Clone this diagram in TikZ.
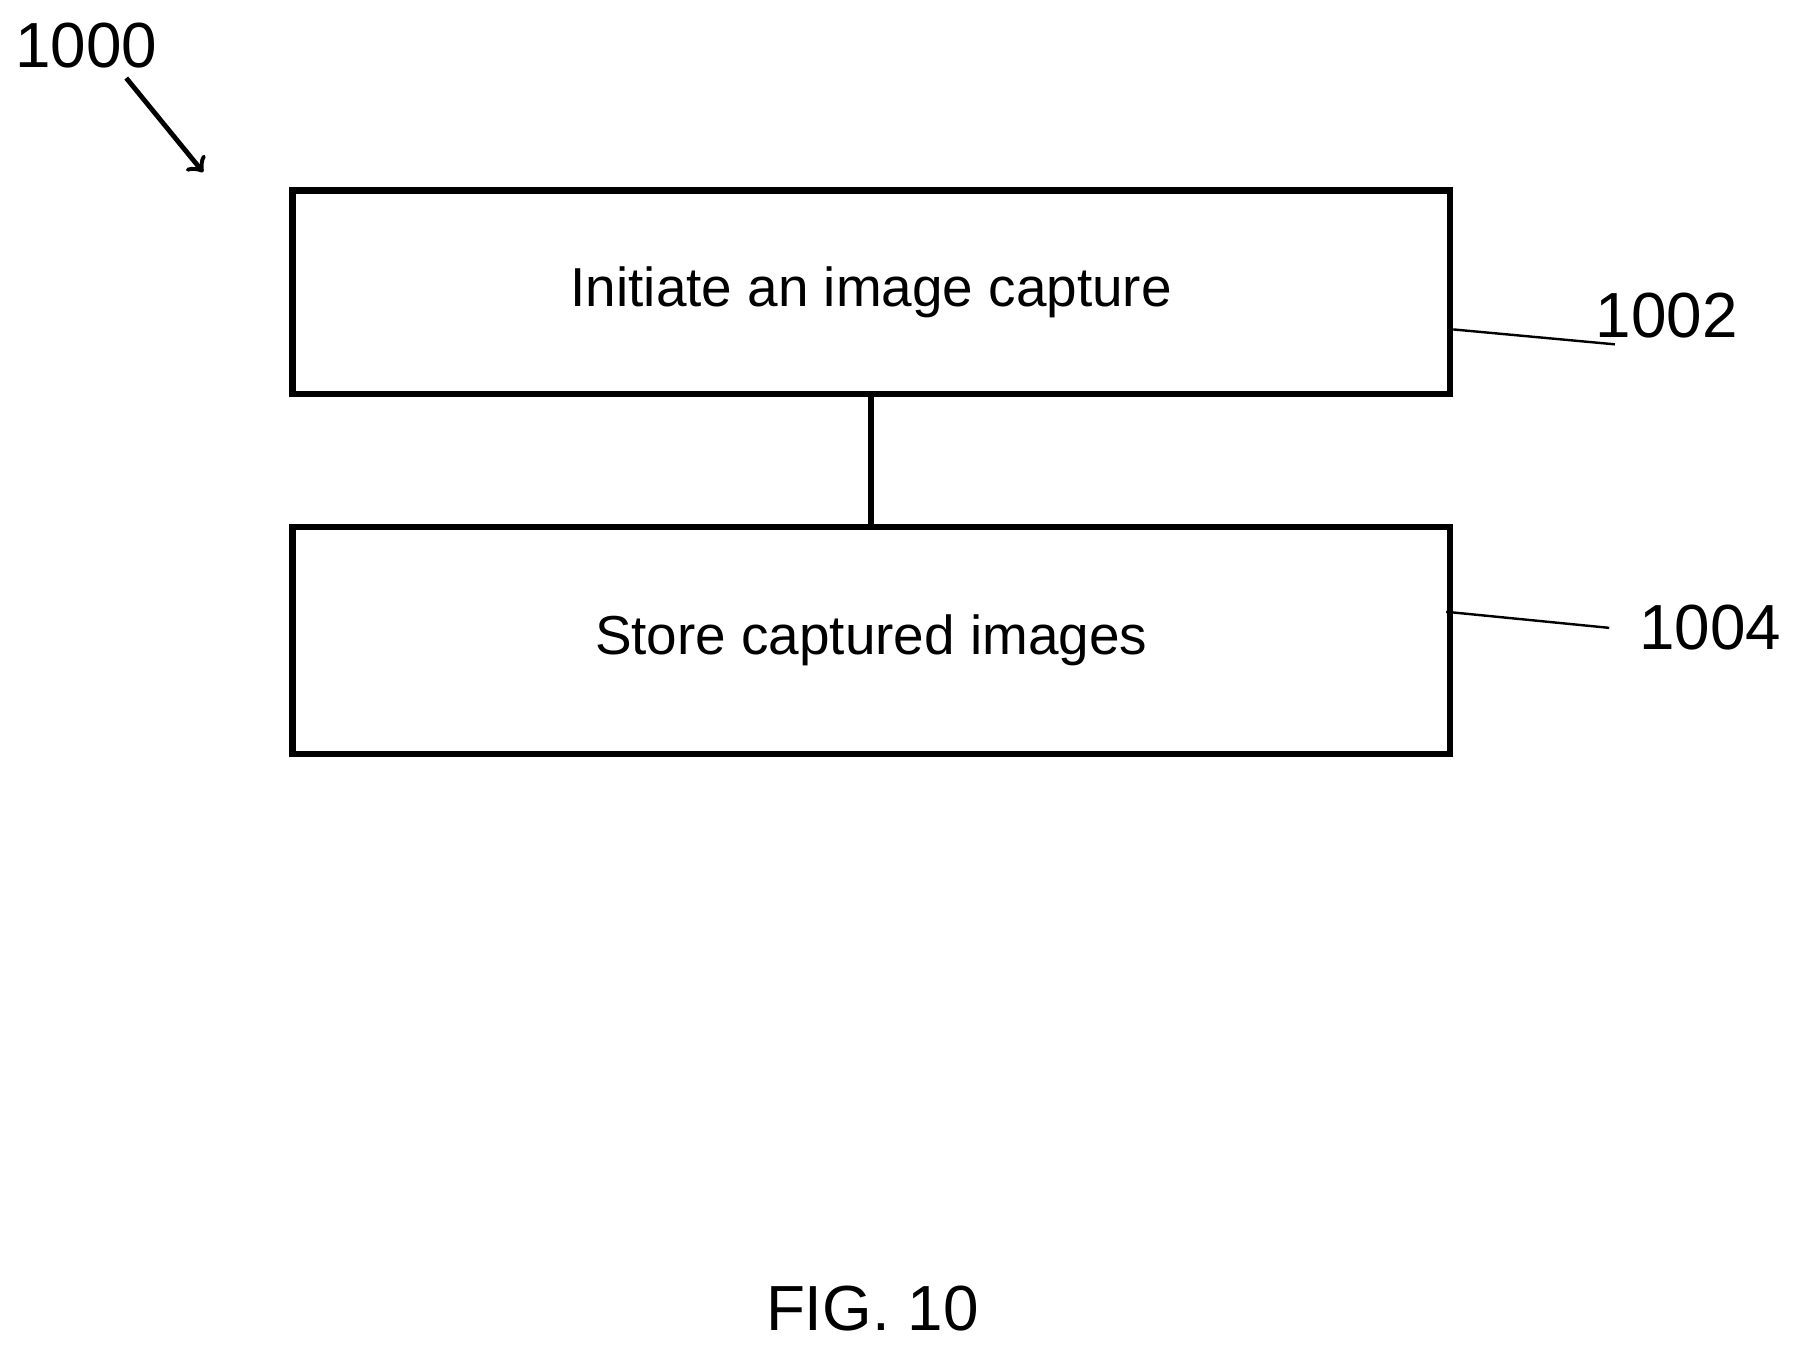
\documentclass[tikz,border=0pt]{standalone}
\usepackage{fontspec}
\setmainfont{Liberation Sans}
\usetikzlibrary{arrows}

\begin{document}
\begin{tikzpicture}[x=0.01cm,y=-0.01cm,>=stealth',semithick]
 \tikzstyle{stepbox}=[draw,line width=1.6pt,minimum width=10.08cm,inner sep=0pt,font=\fontsize{13.6}{16}\selectfont]
 \tikzstyle{ref}=[font=\fontsize{15.8}{19}\selectfont,inner sep=0pt]
 \useasboundingbox (0,0) rectangle (1563,1175);

 \node[stepbox,minimum height=1.77cm] (s1) at (759,254.5) {\raisebox{-0.2cm}{Initiate an image capture}};
 \node[stepbox,minimum height=1.98cm] (s2) at (759,558) {Store captured images};
 \node[ref] (r1000) at (75,40)    {1000};
 \node[ref] (r1002) at (1452,275) {1002};
 \node[ref] (r1004) at (1490,547) {1004};
 \node[ref] (fig)   at (760,1140) {FIG. 10};
 \coordinate (a1) at (110,68);
 \coordinate (a2) at (177,150);
 \coordinate (l1) at (1407,300);
 \coordinate (l2) at (1402,547);

 \draw[line width=1.6pt] (s1) -- (s2);
 \draw[-to,line width=1.2pt] (a1) -- (a2);
 \draw (s1.east |- 0,287) -- (l1);
 \draw (1260,533) -- (l2);
\end{tikzpicture}
\end{document}
